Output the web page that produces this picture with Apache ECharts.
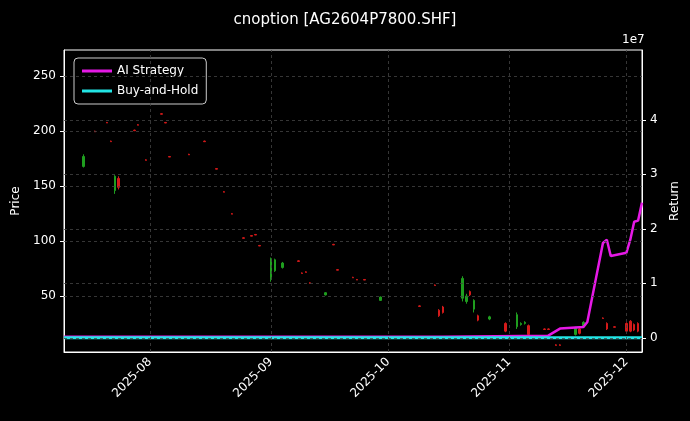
<!DOCTYPE html>
<html>
<head>
<meta charset="utf-8">
<script src="https://cdn.jsdelivr.net/npm/echarts@6/dist/echarts.min.js"></script>
<style>html,body{margin:0;padding:0;background:#000;}#chart{width:690px;height:421px;}</style>
</head>
<body>
<div id="chart"></div>
<script>
// 蜡烛数据: [日期, 开, 收, 低, 高]
var candles = [
  ['2025-07-15', 168, 177, 167, 179],
  ['2025-07-18', 200, 199.5, 199.5, 200.5],
  ['2025-07-21', 208, 207.5, 207.5, 208.5],
  ['2025-07-22', 191, 190.5, 190.5, 191.5],
  ['2025-07-23', 146, 159, 143, 160],
  ['2025-07-24', 157, 149, 147, 159],
  ['2025-07-28', 201, 200.5, 200.5, 201.5],
  ['2025-07-29', 206, 205.5, 205.5, 206.5],
  ['2025-07-31', 174, 173.5, 173.5, 174.5],
  ['2025-08-04', 216, 215.5, 215.5, 216.5],
  ['2025-08-05', 208, 207.5, 207.5, 208.5],
  ['2025-08-06', 177, 176.5, 176.5, 177.5],
  ['2025-08-11', 179, 178.5, 178.5, 179.5],
  ['2025-08-15', 191, 190.5, 190.5, 191.5],
  ['2025-08-18', 166, 165.5, 165.5, 166.5],
  ['2025-08-20', 145, 144.5, 144.5, 145.5],
  ['2025-08-22', 125, 124.5, 124.5, 125.5],
  ['2025-08-25', 103, 102.5, 102.5, 103.5],
  ['2025-08-27', 105, 104.5, 104.5, 105.5],
  ['2025-08-28', 106, 105.5, 105.5, 106.5],
  ['2025-08-29', 96, 95.5, 95.5, 96.5],
  ['2025-09-01', 65, 84, 63, 85],
  ['2025-09-02', 73, 83, 72, 84],
  ['2025-09-04', 76, 80, 75, 81],
  ['2025-09-08', 82, 81.5, 81.5, 82.5],
  ['2025-09-09', 71, 70.5, 70.5, 71.5],
  ['2025-09-10', 72, 71.5, 71.5, 72.5],
  ['2025-09-11', 62, 61.5, 61.5, 62.5],
  ['2025-09-15', 51, 53, 50.5, 53.5],
  ['2025-09-17', 97, 96.5, 96.5, 97.5],
  ['2025-09-18', 74, 73.5, 73.5, 74.5],
  ['2025-09-22', 67, 66.5, 66.5, 67.5],
  ['2025-09-23', 65, 64.5, 64.5, 65.5],
  ['2025-09-25', 65, 64.5, 64.5, 65.5],
  ['2025-09-29', 46, 49, 45.5, 49.5],
  ['2025-10-09', 41, 40.5, 40.5, 41.5],
  ['2025-10-13', 60, 59.5, 59.5, 60.5],
  ['2025-10-14', 37, 32, 31, 38],
  ['2025-10-15', 40, 35, 34, 41],
  ['2025-10-20', 48, 66, 45, 68],
  ['2025-10-21', 45, 50, 43, 52],
  ['2025-10-22', 54, 51, 50, 55],
  ['2025-10-23', 38, 46, 35, 47],
  ['2025-10-24', 32, 28, 27, 33],
  ['2025-10-27', 29, 31, 28, 32],
  ['2025-10-31', 25, 18, 17, 26],
  ['2025-11-03', 22, 33, 20, 35],
  ['2025-11-04', 24, 25, 23, 26],
  ['2025-11-05', 25, 26, 24, 27],
  ['2025-11-06', 23, 15, 12, 24],
  ['2025-11-10', 20, 19.5, 19.5, 20.5],
  ['2025-11-11', 20, 19.5, 19.5, 20.5],
  ['2025-11-13', 5.5, 5, 5, 6],
  ['2025-11-14', 5.5, 5, 5, 6],
  ['2025-11-17', 21, 20.5, 20.5, 21.5],
  ['2025-11-18', 15, 21, 14, 22],
  ['2025-11-19', 20, 16, 15, 21],
  ['2025-11-20', 22, 26, 21, 27],
  ['2025-11-25', 30, 29.5, 29.5, 30.5],
  ['2025-11-26', 25, 20, 19, 26],
  ['2025-11-28', 22, 21.5, 21.5, 22.5],
  ['2025-12-01', 25, 18, 17, 26],
  ['2025-12-02', 27, 18, 17, 28],
  ['2025-12-03', 24, 19, 18, 25],
  ['2025-12-04', 25, 18, 17, 26]
];

// 收益曲线
var aiStrategy = [
  ['2025-07-10', 0.02e7], ['2025-08-15', 0.02e7], ['2025-09-15', 0.02e7],
  ['2025-10-15', 0.02e7], ['2025-11-11', 0.04e7], ['2025-11-14', 0.17e7],
  ['2025-11-20', 0.2e7], ['2025-11-21', 0.29e7], ['2025-11-25', 1.74e7],
  ['2025-11-26', 1.8e7], ['2025-11-27', 1.5e7], ['2025-12-01', 1.56e7],
  ['2025-12-02', 1.8e7], ['2025-12-03', 2.13e7], ['2025-12-04', 2.15e7],
  ['2025-12-05', 2.48e7]
];
var buyHold = [
  ['2025-07-10', 0], ['2025-09-01', 0], ['2025-11-01', 0], ['2025-12-05', 0]
];

var monthTicks = ['2025-08-01', '2025-09-01', '2025-10-01', '2025-11-01', '2025-12-01'];
var priceTicks = [50, 100, 150, 200, 250];
var returnTicks = [0, 1e7, 2e7, 3e7, 4e7];

var myChart = echarts.init(document.getElementById('chart'));
var gridLine = { color: '#444', type: [3, 3], width: 0.8 };
var tickTimes = monthTicks.map(d => +new Date(d + 'T00:00:00'));

var option = {
  backgroundColor: '#000',
  animation: false,
  textStyle: { fontFamily: 'DejaVu Sans' },
  title: {
    text: 'cnoption [AG2604P7800.SHF]',
    left: 'center', top: 8,
    textStyle: { color: '#fff', fontSize: 15, fontWeight: 'normal', fontFamily: 'DejaVu Sans' }
  },
  legend: {
    orient: 'vertical', left: 74, top: 58,
    padding: [7, 8], itemGap: 8,
    backgroundColor: '#000', borderColor: '#ccc', borderWidth: 1, borderRadius: 4,
    icon: 'rect', itemWidth: 30, itemHeight: 3,
    textStyle: { color: '#fff', fontSize: 12 },
    data: ['AI Strategy', 'Buy-and-Hold']
  },
  graphic: [{ type: 'text', left: 622, top: 34, style: { text: '1e7', fill: '#fff', fontSize: 12, fontFamily: 'DejaVu Sans' } }],
  grid: { left: 64, right: 48, top: 50, bottom: 69, show: true, borderColor: '#fff', borderWidth: 1, backgroundColor: 'transparent' },
  xAxis: {
    type: 'time',
    min: '2025-07-10T00:00:00', max: '2025-12-05T00:00:00',
    axisLine: { onZero: false, lineStyle: { color: '#fff' } },
    axisTick: { show: false },
    axisLabel: {
      color: '#fff', fontSize: 12, rotate: 45, hideOverlap: false,
      formatter: function (v) {
        var d = new Date(v);
        if (d.getDate() !== 1) return '';
        return d.getFullYear() + '-' + String(d.getMonth() + 1).padStart(2, '0');
      }
    },
    splitLine: { show: false }
  },
  yAxis: [
    {
      type: 'value', min: -1, max: 274,
      name: 'Price', nameLocation: 'middle', nameGap: 42, nameRotate: 90,
      nameTextStyle: { color: '#fff', fontSize: 12 },
      axisLine: { show: true, lineStyle: { color: '#fff' } },
      axisTick: { show: true, customValues: priceTicks, length: 4 },
      axisLabel: { customValues: priceTicks, color: '#fff', fontSize: 12 },
      splitLine: { show: false }
    },
    {
      type: 'value', min: -0.26e7, max: 5.28e7,
      name: 'Return', nameLocation: 'middle', nameGap: 24, nameRotate: 90,
      nameTextStyle: { color: '#fff', fontSize: 12 },
      axisLine: { show: true, lineStyle: { color: '#fff' } },
      axisTick: { show: true, customValues: returnTicks, length: 4 },
      axisLabel: { customValues: returnTicks, color: '#fff', fontSize: 12, formatter: v => String(Math.round(v / 1e7)) },
      splitLine: { show: false }
    }
  ],
  series: [
    {
      name: 'Price', type: 'candlestick', yAxisIndex: 0, barWidth: 2,
      itemStyle: { color: '#1f9e1f', color0: '#d41a1a', borderColor: '#1f9e1f', borderColor0: '#d41a1a', borderWidth: 1 },
      data: candles.map(c => [c[0], c[1], c[2], c[3], c[4]]),
      markLine: {
        silent: true, symbol: 'none', label: { show: false },
        lineStyle: gridLine,
        data: priceTicks.map(v => ({ yAxis: v })).concat(tickTimes.map(t => ({ xAxis: t })))
      }
    },
    {
      name: 'AI Strategy', type: 'line', yAxisIndex: 1, data: aiStrategy,
      symbol: 'none', lineStyle: { color: '#e619e6', width: 2.5 }, itemStyle: { color: '#e619e6' },
      markLine: {
        silent: true, symbol: 'none', label: { show: false },
        lineStyle: gridLine,
        data: returnTicks.map(v => ({ yAxis: v }))
      }
    },
    {
      name: 'Buy-and-Hold', type: 'line', yAxisIndex: 1, data: buyHold,
      symbol: 'none', lineStyle: { color: '#22e5e5', width: 3 }, itemStyle: { color: '#22e5e5' }
    }
  ]
};
myChart.setOption(option);
</script>
</body>
</html>
